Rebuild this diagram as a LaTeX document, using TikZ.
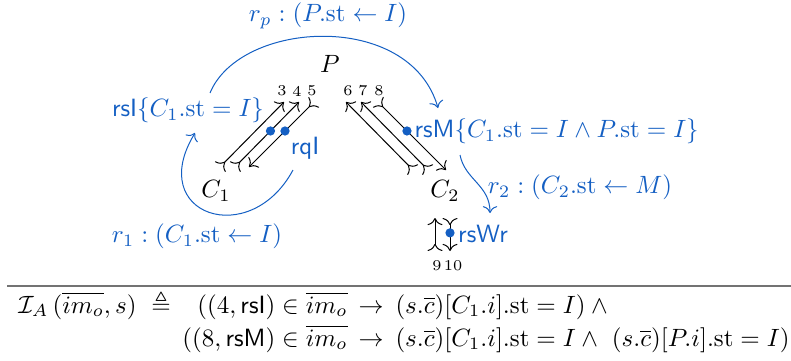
\documentclass[tikz,border=0pt]{standalone}
\usepackage{amsmath,amssymb}
\usetikzlibrary{arrows.meta}
\definecolor{cblue}{RGB}{20,95,195}
\begin{document}
\begin{tikzpicture}[x=0.4pt,y=-0.4pt,
  msg/.style={{To[reversed,scale=1.15]}-{To[scale=1.15]}, line width=0.4pt},
  dot/.style={circle,fill=cblue,inner sep=0pt,minimum size=3.7pt},
  num/.style={font=\fontsize{6}{7}\selectfont,inner sep=1pt},
  bl/.style={text=cblue},
  rulearrow/.style={cblue, line width=0.4pt, -{To[scale=1.1]}},
  frm/.style={inner sep=0pt}
]
\useasboundingbox (0,0) rectangle (791,360);

% agents
\node (P) at (330,64) {$P$};
\node (C1) at (216,191) {$C_1$};
\node (C2) at (445,191) {$C_2$};

% message end points
\coordinate (a3s) at (220,167); \coordinate (a3e) at (284,102);
\coordinate (a4s) at (235,167); \coordinate (a4e) at (299,102);
\coordinate (a5s) at (314,102); \coordinate (a5e) at (249,167);
\coordinate (a6s) at (413,170); \coordinate (a6e) at (346,102);
\coordinate (a7s) at (428,170); \coordinate (a7e) at (361,102);
\coordinate (a8s) at (378,102); \coordinate (a8e) at (446,170);
\coordinate (a9s) at (435,251); \coordinate (a9e) at (435,218);
\coordinate (a10s) at (450,218); \coordinate (a10e) at (450,251);

\draw[msg] (a3s) -- (a3e);
\draw[msg] (a4s) -- node[dot,pos=0.554] (d4) {} (a4e);
\draw[msg] (a5s) -- node[dot,pos=0.446] (d5) {} (a5e);
\draw[msg] (a6s) -- (a6e);
\draw[msg] (a7s) -- (a7e);
\draw[msg] (a8s) -- node[dot,pos=0.426] (d8) {} (a8e);
\draw[msg] (a9s) -- (a9e);
\draw[msg] (a10s) -- node[dot,pos=0.45] (d10) {} (a10e);

% numbers
\node[num] (n3) at (282,91) {3};
\node[num] (n4) at (297,91) {4};
\node[num] (n5) at (312,91) {5};
\node[num] (n6) at (348,91) {6};
\node[num] (n7) at (363,91) {7};
\node[num] (n8) at (379,91) {8};
\node[num] (n9) at (437,266) {9};
\node[num] (n10) at (453,266) {10};

% blue labels
\node[bl] (rsI) at (188,110) {\textsf{rsI}$\{C_1.\mathrm{st}=I\}$};
\node[bl,anchor=west,inner sep=0pt] (rsM) at (414,131) {\textsf{rsM}$\{C_1.\mathrm{st}=I\wedge P.\mathrm{st}=I\}$};
\node[bl] (rqI) at (305,148) {\textsf{rqI}};
\node[bl] (rsWr) at (483,234) {\textsf{rsWr}};
\node[bl] (rp) at (328,16) {$r_p : (P.\mathrm{st} \leftarrow I)$};
\node[bl] (r1) at (197,236) {$r_1 : (C_1.\mathrm{st} \leftarrow I)$};
\node[bl] (r2) at (580,187) {$r_2 : (C_2.\mathrm{st} \leftarrow M)$};

% rule curves
\coordinate (rpS) at (210,93); \coordinate (rpE) at (438,108);
\draw[rulearrow] (rpS) .. controls (240,20) and (410,10) .. (rpE);
\coordinate (r1S) at (293,170); \coordinate (r1E) at (195,133);
\draw[rulearrow] (r1S) .. controls (250,250) and (145,215) .. (r1E);
\coordinate (r2S) at (460,155); \coordinate (r2E) at (490,213);
\draw[rulearrow] (r2S) .. controls (465,180) and (490,185) .. (r2E);

% separator
\coordinate (hl1) at (7,286); \coordinate (hl2) at (791,286);
\draw[black!55, line width=0.6pt] (hl1) -- (hl2);

% formula
\node[frm,anchor=base west] (lhs) at (18,313) {$\mathcal{I}_A\,(\overline{im_o}, s)$};
\node[frm,anchor=base] (def) at (161,313) {$\triangleq$};
\node[frm,anchor=base east] (c1) at (348,313) {$((4,\textsf{rsI}) \in \overline{im_o}$};
\node[frm,anchor=base] (ar1) at (371,313) {$\rightarrow$};
\node[frm,anchor=base west] (e1) at (395,313) {$(s.\overline{c})[C_1.i].\mathrm{st} = I) \wedge{}$};
\node[frm,anchor=base east] (c2) at (348,346) {$((8,\textsf{rsM}) \in \overline{im_o}$};
\node[frm,anchor=base] (ar2) at (371,346) {$\rightarrow$};
\node[frm,anchor=base west] (e2) at (395,346) {$(s.\overline{c})[C_1.i].\mathrm{st} = I \wedge\ (s.\overline{c})[P.i].\mathrm{st} = I)$};
\end{tikzpicture}
\end{document}
